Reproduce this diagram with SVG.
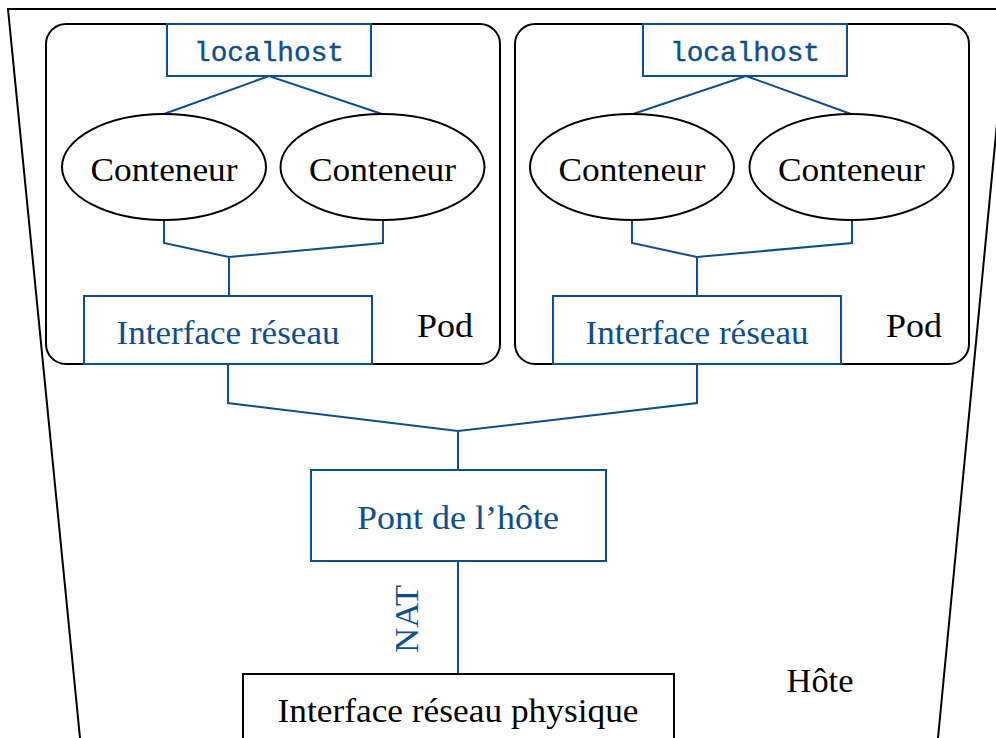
<svg xmlns="http://www.w3.org/2000/svg" width="996" height="738" viewBox="0 0 996 738">
<style>
.bk{fill:none;stroke:#000;stroke-width:2}
.bl{fill:none;stroke:#0f4e8c;stroke-width:2}
.bx{fill:#fff;stroke:#0f4e8c;stroke-width:2}
.el{fill:#fff;stroke:#000;stroke-width:2}
.t{font-family:"Liberation Serif",serif;font-size:33px;fill:#000;text-anchor:middle}
.tb{font-family:"Liberation Serif",serif;font-size:33px;fill:#0f4e8c;text-anchor:middle}
.tm{font-family:"Liberation Mono",monospace;font-size:28px;fill:#0f4e8c;stroke:#0f4e8c;stroke-width:0.4;text-anchor:middle}
</style>
<rect width="996" height="738" fill="#fff"/>
<g id="host">
<path class="bk" d="M80,738 L8,9 L1010,9 M1008,9 L938,738"/>
<text class="t" x="820" y="692" textLength="67" lengthAdjust="spacingAndGlyphs">Hôte</text>
</g>
<g id="pod1">
<rect class="bk" x="46" y="24" width="454" height="340" rx="20"/>
<text class="t" x="445" y="337" textLength="56" lengthAdjust="spacingAndGlyphs">Pod</text>
</g>
<g id="pod2">
<rect class="bk" x="515" y="24" width="454" height="340" rx="20"/>
<text class="t" x="914" y="337" textLength="56" lengthAdjust="spacingAndGlyphs">Pod</text>
</g>
<g id="connectors">
<path class="bl" d="M164,114 L269,76 L382,114"/>
<path class="bl" d="M633,114 L746,76 L851,114"/>
<path class="bl" d="M164,220 V243 L229,257 L383,243 V220 M229,257 V296"/>
<path class="bl" d="M632,220 V243 L697,257 L852,243 V220 M697,257 V296"/>
<path class="bl" d="M228,364 V403 L458,431 L697,403 V364 M458,431 V470"/>
<path class="bl" d="M458,561 V674"/>
<text class="tb" transform="translate(418,619) rotate(-90)" x="0" y="0" textLength="68" lengthAdjust="spacingAndGlyphs">NAT</text>
</g>
<g id="localhost1">
<rect class="bx" x="167" y="24" width="204" height="52"/>
<text class="tm" x="269" y="61" textLength="150" lengthAdjust="spacingAndGlyphs">localhost</text>
</g>
<g id="localhost2">
<rect class="bx" x="643" y="24" width="204" height="52"/>
<text class="tm" x="745" y="61" textLength="150" lengthAdjust="spacingAndGlyphs">localhost</text>
</g>
<g id="c1">
<ellipse class="el" cx="164" cy="167" rx="102" ry="53"/>
<text class="t" x="164" y="181" textLength="147" lengthAdjust="spacingAndGlyphs">Conteneur</text>
</g>
<g id="c2">
<ellipse class="el" cx="382.5" cy="167" rx="102" ry="53"/>
<text class="t" x="382.5" y="181" textLength="147" lengthAdjust="spacingAndGlyphs">Conteneur</text>
</g>
<g id="c3">
<ellipse class="el" cx="632" cy="167" rx="102" ry="53"/>
<text class="t" x="632" y="181" textLength="147" lengthAdjust="spacingAndGlyphs">Conteneur</text>
</g>
<g id="c4">
<ellipse class="el" cx="851.5" cy="167" rx="102" ry="53"/>
<text class="t" x="851.5" y="181" textLength="147" lengthAdjust="spacingAndGlyphs">Conteneur</text>
</g>
<g id="if1">
<rect class="bx" x="84" y="296" width="288" height="68"/>
<text class="tb" x="228" y="344" textLength="223" lengthAdjust="spacingAndGlyphs">Interface réseau</text>
</g>
<g id="if2">
<rect class="bx" x="553" y="296" width="288" height="68"/>
<text class="tb" x="697" y="344" textLength="223" lengthAdjust="spacingAndGlyphs">Interface réseau</text>
</g>
<g id="bridge">
<rect class="bx" x="311" y="470" width="295" height="91"/>
<text class="tb" x="458" y="529" textLength="202" lengthAdjust="spacingAndGlyphs">Pont de l’hôte</text>
</g>
<g id="phys">
<rect x="243" y="674" width="431" height="80" fill="#fff" stroke="#000" stroke-width="2"/>
<text class="t" x="458" y="722" textLength="361" lengthAdjust="spacingAndGlyphs">Interface réseau physique</text>
</g>
</svg>
